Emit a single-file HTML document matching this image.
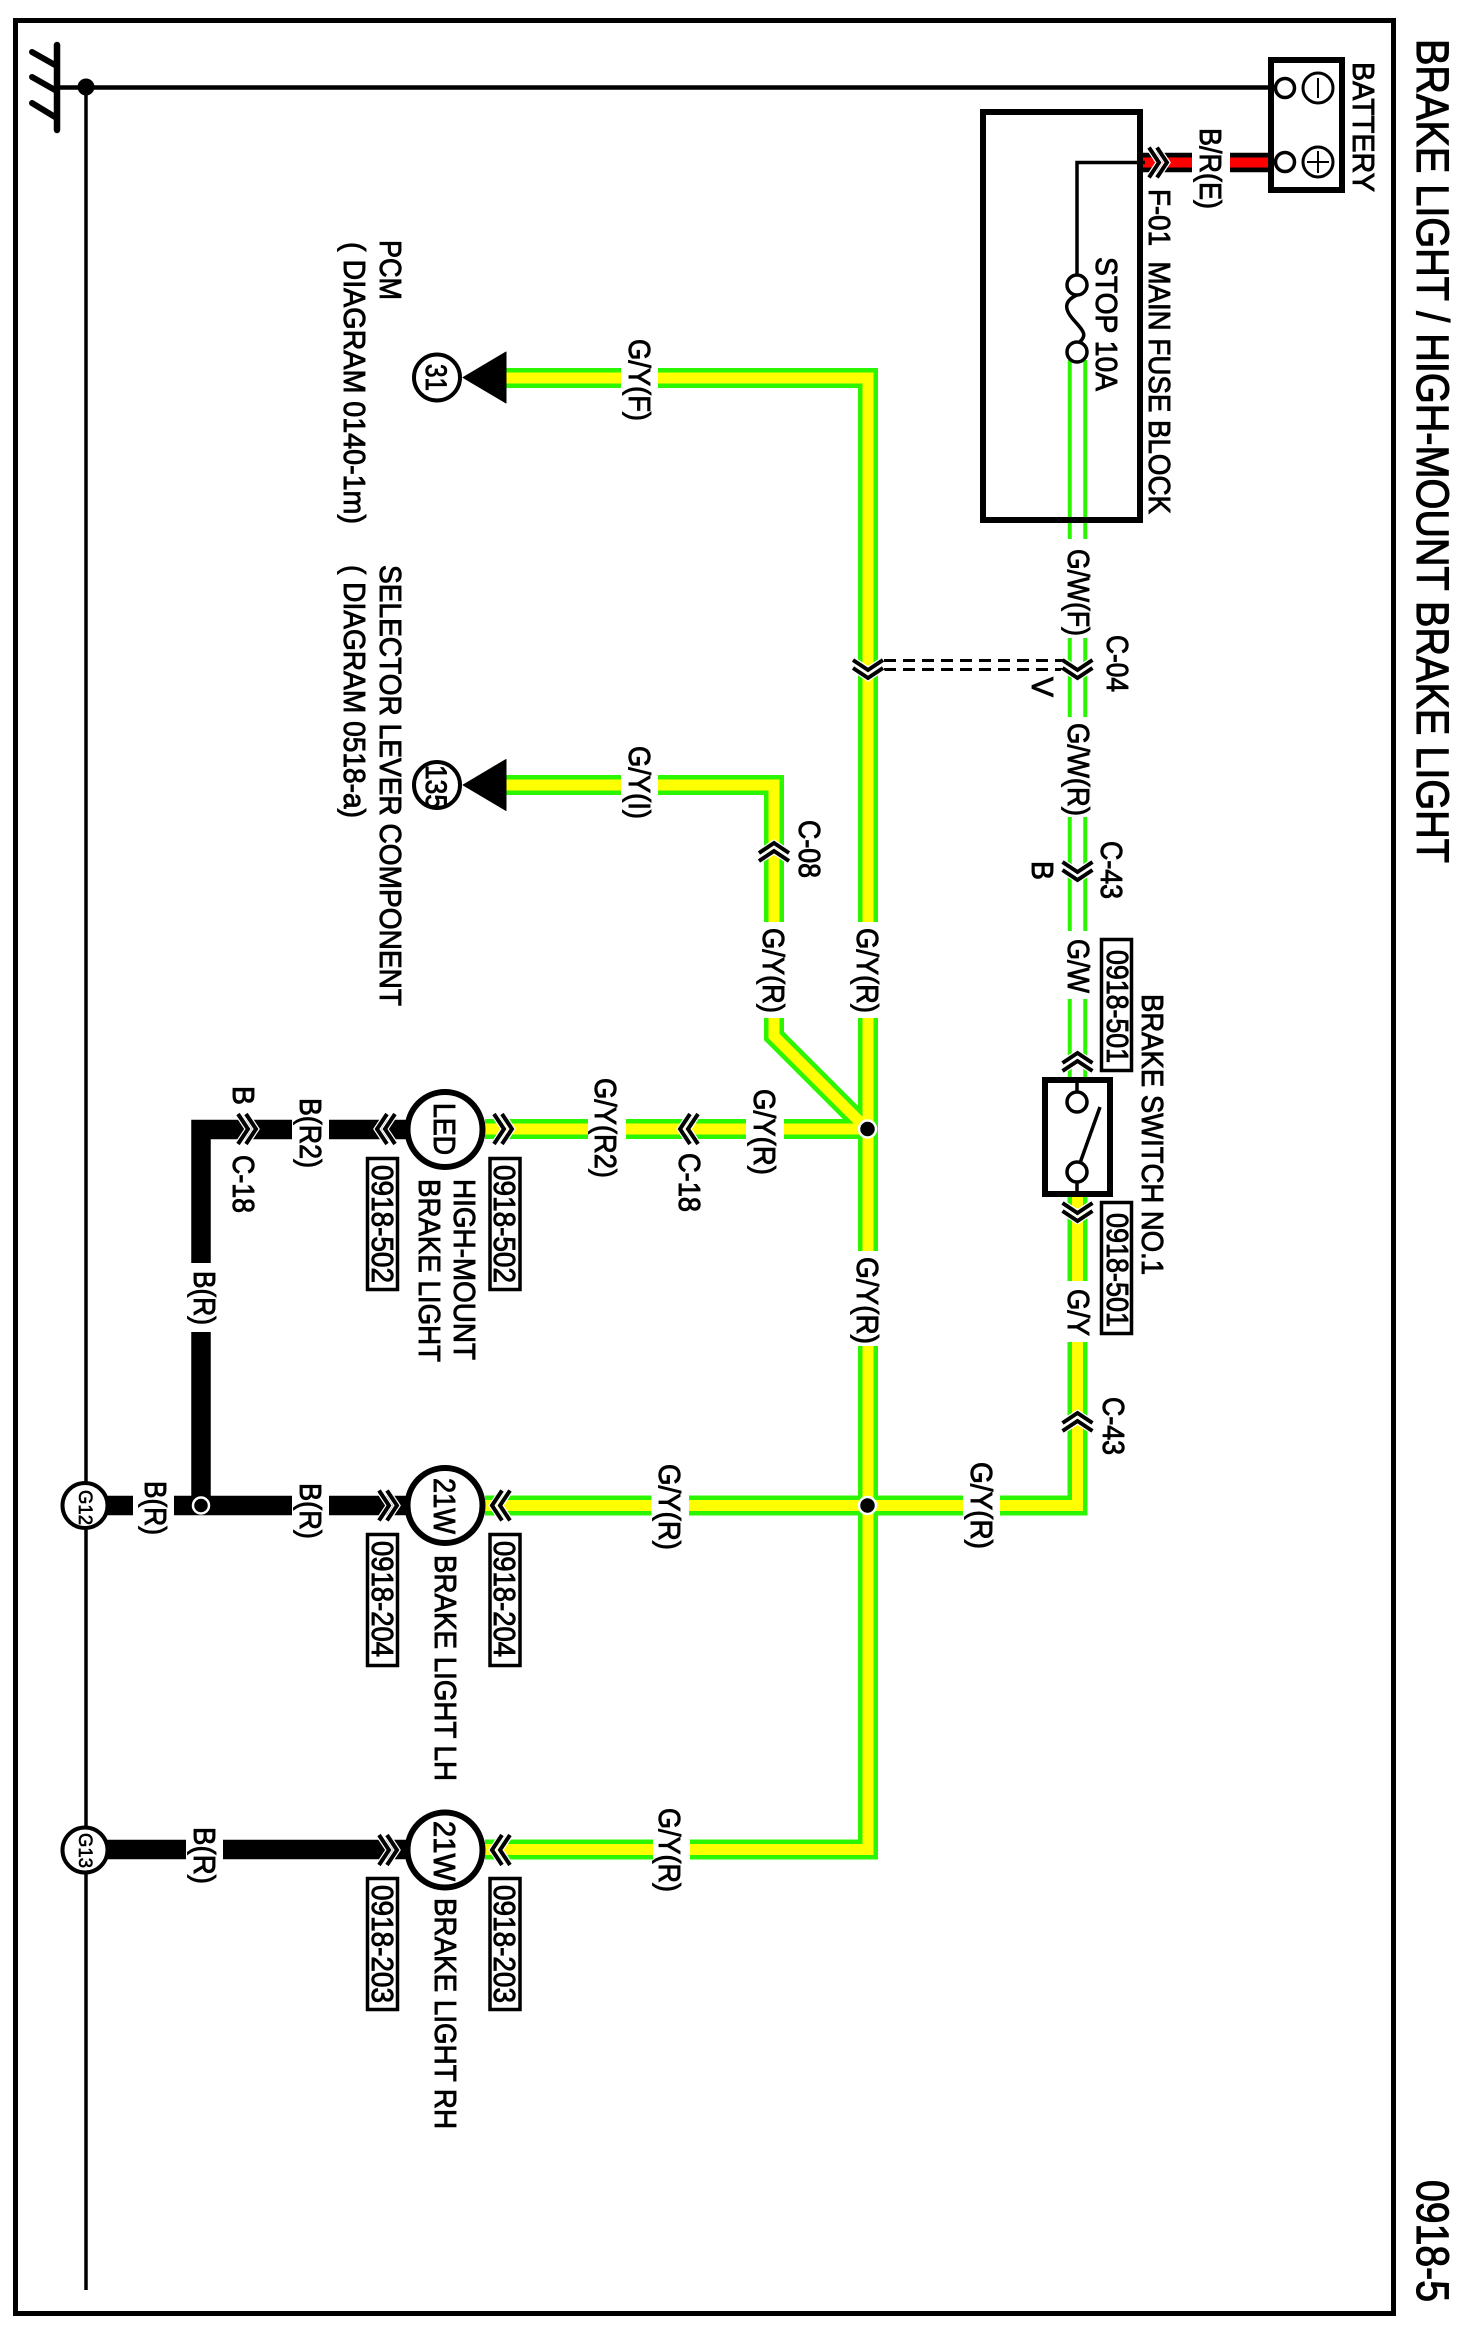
<!DOCTYPE html>
<html><head><meta charset="utf-8"><title>Brake Light / High-Mount Brake Light</title>
<style>
html,body{margin:0;padding:0;background:#fff}
svg{display:block}
text{font-family:"Liberation Sans",Arial,sans-serif;fill:#000;stroke:#000;stroke-width:.9;white-space:pre}
.w{fill:none;stroke-linejoin:miter;stroke-linecap:butt}
.g{stroke:#2bf500;stroke-width:20}
.y{stroke:#ffff00;stroke-width:11}
.c{fill:#fff;stroke:#000}
</style></head><body>
<svg width="1458" height="2331" viewBox="0 0 1458 2331" xmlns="http://www.w3.org/2000/svg">
<defs>
<g id="ch">
<path d="M-9,-15 L1,0 L-9,15 M-1,-15 L9,0 L-1,15" fill="none" stroke="#fff" stroke-width="6.5"/>
<path d="M-9,-15 L1,0 L-9,15 M-1,-15 L9,0 L-1,15" fill="none" stroke="#000" stroke-width="4"/>
</g>
</defs>
<rect width="1458" height="2331" fill="#fff"/>
<rect x="15.5" y="20.5" width="1378" height="2293" fill="none" stroke="#000" stroke-width="5"/>

<!-- ground -->
<g stroke="#000" stroke-linecap="round" fill="none">
<path d="M57,45 V130" stroke-width="6.5"/>
<path d="M32,52 L55,65 M32,77 L55,90 M32,103 L55,117" stroke-width="6"/>
</g>
<path d="M57,87.5 H1270" stroke="#000" stroke-width="4.5"/>
<path d="M86,87 V2290" stroke="#000" stroke-width="3.5"/>
<circle cx="86" cy="87" r="8.5" fill="#000"/>

<!-- white/green wires -->
<path class="w" d="M1077.5,360 V1080" stroke="#2bf500" stroke-width="19.5"/>
<path class="w" d="M1077.5,355 V1080" stroke="#fff" stroke-width="11.5"/>

<!-- green yellow wires -->
<g class="w g">
<path d="M506,378 H868 V1849.5 H485"/>
<path d="M506,785 H774 V1036 L868,1130"/>
<path d="M485,1129 H868"/>
<path d="M485,1505.5 H1077.5 V1197"/>
</g>
<g class="w y">
<path d="M506,378 H868 V1849.5 H485"/>
<path d="M506,785 H774 V1036 L868,1130"/>
<path d="M485,1129 H868"/>
<path d="M485,1505.5 H1077.5 V1197"/>
</g>

<!-- black wires -->
<g class="w" stroke="#000" stroke-width="19.5">
<path d="M406,1129.5 H201 V1505"/>
<path d="M85,1505.5 H406"/>
<path d="M85,1849.5 H406"/>
</g>

<!-- red wire -->
<path d="M1143,162.5 H1268" stroke="#000" stroke-width="19.5"/>
<path d="M1143,162.5 H1268" stroke="#ff0000" stroke-width="10"/>

<!-- label gaps -->
<g fill="#fff">
<rect x="1192" y="150" width="38" height="25"/>
<rect x="621" y="365" width="37" height="26"/>
<rect x="621" y="772" width="37" height="26"/>
<rect x="760" y="922" width="28" height="96"/>
<rect x="855" y="922" width="26" height="96"/>
<rect x="855" y="1251" width="26" height="95"/>
<rect x="746" y="1117" width="38" height="25"/>
<rect x="588" y="1117" width="38" height="25"/>
<rect x="651.5" y="1493" width="37.5" height="25"/>
<rect x="963" y="1493" width="37" height="25"/>
<rect x="653" y="1837" width="37" height="25"/>
<rect x="1065" y="1281" width="25" height="61"/>
<rect x="1065" y="539" width="25" height="99"/>
<rect x="1065" y="717" width="25" height="100"/>
<rect x="1065" y="931" width="25" height="68"/>
<rect x="292" y="1118" width="37" height="23"/>
<rect x="292" y="1494" width="37" height="23"/>
<rect x="189" y="1263" width="24" height="69"/>
<rect x="133" y="1494" width="41" height="23"/>
<rect x="186" y="1838" width="37" height="23"/>
</g>

<!-- battery -->
<rect x="1271" y="60" width="71" height="130" fill="#fff" stroke="#000" stroke-width="6"/>
<circle cx="1285" cy="88" r="9.5" class="c" stroke-width="3.5"/>
<circle cx="1285" cy="162" r="9.5" class="c" stroke-width="3.5"/>
<circle cx="1318" cy="88" r="15" class="c" stroke-width="3"/>
<circle cx="1318" cy="162" r="15" class="c" stroke-width="3"/>
<path d="M1318,78 V98 M1318,151 V173 M1307,162 H1329" stroke="#000" stroke-width="2"/>

<!-- fuse block -->
<rect x="983" y="112" width="157" height="408" fill="none" stroke="#000" stroke-width="6"/>
<path d="M1145,162.5 H1077 V276" fill="none" stroke="#000" stroke-width="3.5"/>
<path d="M1077,295 C1066,300 1063,307 1072,318 C1082,330 1090,335 1077,344" fill="none" stroke="#000" stroke-width="3.5"/>
<circle cx="1077" cy="285" r="10" class="c" stroke-width="3.5"/>
<circle cx="1077" cy="352" r="10" class="c" stroke-width="3.5"/>

<!-- dashed connector links -->
<path d="M884,660.5 H1065 M884,669.5 H1065" fill="none" stroke="#000" stroke-width="3" stroke-dasharray="12 7"/>

<!-- brake switch -->
<rect x="1045" y="1080" width="65" height="114" fill="#fff" stroke="#000" stroke-width="6"/>
<path d="M1077,1080 V1092 M1077,1182 V1194 M1080,1163 L1100,1107" stroke="#000" stroke-width="3.5" fill="none"/>
<circle cx="1077" cy="1102" r="10" class="c" stroke-width="3.5"/>
<circle cx="1077" cy="1172" r="10" class="c" stroke-width="3.5"/>

<!-- lamps -->
<circle cx="445" cy="1129.5" r="37.5" class="c" stroke-width="6"/>
<circle cx="445" cy="1505.5" r="37.5" class="c" stroke-width="6"/>
<circle cx="445" cy="1850" r="37.5" class="c" stroke-width="6"/>

<!-- module terminals -->
<path d="M463,377.5 L506,352 V403 Z" fill="#000" stroke="#000" stroke-linejoin="round"/>
<path d="M463,785 L506,759.5 V810.5 Z" fill="#000" stroke="#000" stroke-linejoin="round"/>
<circle cx="437" cy="377.5" r="23" class="c" stroke-width="4"/>
<circle cx="437" cy="785" r="23" class="c" stroke-width="4"/>

<!-- ground points -->
<circle cx="85" cy="1505.5" r="22.5" class="c" stroke-width="4"/>
<circle cx="85" cy="1850" r="22.5" class="c" stroke-width="4"/>

<!-- junctions -->
<g fill="#000" stroke="#fff" stroke-width="2.5">
<circle cx="867.5" cy="1129" r="8.5"/>
<circle cx="867.5" cy="1505.5" r="8.5"/>
<circle cx="201" cy="1505.5" r="8"/>
</g>

<!-- chevrons -->
<use href="#ch" transform="translate(1158,162.5)"/>
<use href="#ch" transform="translate(868,669) rotate(90)"/>
<use href="#ch" transform="translate(1077.5,669) rotate(90)"/>
<use href="#ch" transform="translate(1077.5,871) rotate(90)"/>
<use href="#ch" transform="translate(1077.5,1062) rotate(-90)"/>
<use href="#ch" transform="translate(1077.5,1212) rotate(90)"/>
<use href="#ch" transform="translate(1077.5,1422) rotate(-90)"/>
<use href="#ch" transform="translate(774,852) rotate(-90)"/>
<use href="#ch" transform="translate(503,1129)"/>
<use href="#ch" transform="translate(689,1129) rotate(180)"/>
<use href="#ch" transform="translate(386,1129) rotate(180)"/>
<use href="#ch" transform="translate(247,1129)"/>
<use href="#ch" transform="translate(501,1505.5) rotate(180)"/>
<use href="#ch" transform="translate(388,1505.5)"/>
<use href="#ch" transform="translate(501,1850) rotate(180)"/>
<use href="#ch" transform="translate(388,1850)"/>

<!-- reference boxes -->
<g fill="#fff" stroke="#000" stroke-width="3.5">
<rect x="1101.5" y="939.5" width="30" height="131"/>
<rect x="1101.5" y="1202.5" width="30" height="131"/>
<rect x="490" y="1158.5" width="30" height="131"/>
<rect x="367.5" y="1158.5" width="30" height="131"/>
<rect x="490" y="1534.5" width="30" height="131"/>
<rect x="367.5" y="1534.5" width="30" height="131"/>
<rect x="490" y="1878.5" width="30" height="131"/>
<rect x="367.5" y="1878.5" width="30" height="131"/>
</g>

<!-- text -->
<g>
<text transform="translate(1417,39) rotate(90)" font-size="45" textLength="824" lengthAdjust="spacingAndGlyphs" style="stroke-width:1.1">BRAKE LIGHT / HIGH-MOUNT BRAKE LIGHT</text>
<text transform="translate(1417,2180) rotate(90)" font-size="45" textLength="122" lengthAdjust="spacingAndGlyphs" style="stroke-width:1.1">0918-5</text>
<text transform="translate(1353,62) rotate(90)" font-size="31" textLength="130" lengthAdjust="spacingAndGlyphs">BATTERY</text>
<text transform="translate(1200,128) rotate(90)" font-size="31" textLength="81" lengthAdjust="spacingAndGlyphs">B/R(E)</text>
<text transform="translate(1149,189) rotate(90)" font-size="31" textLength="325" lengthAdjust="spacingAndGlyphs">F-01&#160;&#160;MAIN FUSE BLOCK</text>
<text transform="translate(1096,257) rotate(90)" font-size="31" textLength="134" lengthAdjust="spacingAndGlyphs">STOP 10A</text>

<text transform="translate(1068,549) rotate(90)" font-size="31" textLength="87" lengthAdjust="spacingAndGlyphs">G/W(F)</text>
<text transform="translate(1068,723) rotate(90)" font-size="31" textLength="93" lengthAdjust="spacingAndGlyphs">G/W(R)</text>
<text transform="translate(1068,939) rotate(90)" font-size="31" textLength="54" lengthAdjust="spacingAndGlyphs">G/W</text>
<text transform="translate(1107,635) rotate(90)" font-size="31" textLength="57" lengthAdjust="spacingAndGlyphs">C-04</text>
<text transform="translate(1032,677) rotate(90)" font-size="31" textLength="20" lengthAdjust="spacingAndGlyphs">V</text>
<text transform="translate(1101,841) rotate(90)" font-size="31" textLength="58" lengthAdjust="spacingAndGlyphs">C-43</text>
<text transform="translate(1032,861) rotate(90)" font-size="31" textLength="19" lengthAdjust="spacingAndGlyphs">B</text>
<text transform="translate(1107,950) rotate(90)" font-size="31" textLength="113" lengthAdjust="spacingAndGlyphs">0918-501</text>
<text transform="translate(1142,994) rotate(90)" font-size="31" textLength="281" lengthAdjust="spacingAndGlyphs">BRAKE SWITCH NO.1</text>
<text transform="translate(1107,1213) rotate(90)" font-size="31" textLength="114" lengthAdjust="spacingAndGlyphs">0918-501</text>
<text transform="translate(1068,1289) rotate(90)" font-size="31" textLength="47" lengthAdjust="spacingAndGlyphs">G/Y</text>
<text transform="translate(1103,1397) rotate(90)" font-size="31" textLength="58" lengthAdjust="spacingAndGlyphs">C-43</text>
<text transform="translate(971,1462) rotate(90)" font-size="31" textLength="87" lengthAdjust="spacingAndGlyphs">G/Y(R)</text>

<text transform="translate(629,339) rotate(90)" font-size="31" textLength="82" lengthAdjust="spacingAndGlyphs">G/Y(F)</text>
<text transform="translate(629,746) rotate(90)" font-size="31" textLength="73" lengthAdjust="spacingAndGlyphs">G/Y(I)</text>
<text transform="translate(799,820) rotate(90)" font-size="31" textLength="58" lengthAdjust="spacingAndGlyphs">C-08</text>
<text transform="translate(763,928) rotate(90)" font-size="31" textLength="85" lengthAdjust="spacingAndGlyphs">G/Y(R)</text>
<text transform="translate(857,928) rotate(90)" font-size="31" textLength="85" lengthAdjust="spacingAndGlyphs">G/Y(R)</text>
<text transform="translate(857,1257) rotate(90)" font-size="31" textLength="87" lengthAdjust="spacingAndGlyphs">G/Y(R)</text>
<text transform="translate(754,1089) rotate(90)" font-size="31" textLength="86" lengthAdjust="spacingAndGlyphs">G/Y(R)</text>
<text transform="translate(595,1078) rotate(90)" font-size="31" textLength="100" lengthAdjust="spacingAndGlyphs">G/Y(R2)</text>
<text transform="translate(679,1153) rotate(90)" font-size="31" textLength="59" lengthAdjust="spacingAndGlyphs">C-18</text>
<text transform="translate(659,1464) rotate(90)" font-size="31" textLength="86" lengthAdjust="spacingAndGlyphs">G/Y(R)</text>
<text transform="translate(659,1808) rotate(90)" font-size="31" textLength="84" lengthAdjust="spacingAndGlyphs">G/Y(R)</text>

<text transform="translate(426,364) rotate(90)" font-size="30" textLength="27" lengthAdjust="spacingAndGlyphs">31</text>
<text transform="translate(426,765) rotate(90)" font-size="30" textLength="44" lengthAdjust="spacingAndGlyphs">135</text>
<text transform="translate(380,240) rotate(90)" font-size="31" textLength="60" lengthAdjust="spacingAndGlyphs">PCM</text>
<text transform="translate(344,242) rotate(90)" font-size="31" textLength="282" lengthAdjust="spacingAndGlyphs">( DIAGRAM 0140-1m)</text>
<text transform="translate(380,565) rotate(90)" font-size="31" textLength="441" lengthAdjust="spacingAndGlyphs">SELECTOR LEVER COMPONENT</text>
<text transform="translate(344,565) rotate(90)" font-size="31" textLength="253" lengthAdjust="spacingAndGlyphs">( DIAGRAM 0518-a)</text>

<text transform="translate(434,1103) rotate(90)" font-size="31" textLength="52" lengthAdjust="spacingAndGlyphs">LED</text>
<text transform="translate(494,1165) rotate(90)" font-size="31" textLength="118" lengthAdjust="spacingAndGlyphs">0918-502</text>
<text transform="translate(372,1165) rotate(90)" font-size="31" textLength="118" lengthAdjust="spacingAndGlyphs">0918-502</text>
<text transform="translate(454,1179) rotate(90)" font-size="31" textLength="181" lengthAdjust="spacingAndGlyphs">HIGH-MOUNT</text>
<text transform="translate(419,1179) rotate(90)" font-size="31" textLength="183" lengthAdjust="spacingAndGlyphs">BRAKE LIGHT</text>
<text transform="translate(300,1098) rotate(90)" font-size="31" textLength="70" lengthAdjust="spacingAndGlyphs">B(R2)</text>
<text transform="translate(233,1086) rotate(90)" font-size="31" textLength="19" lengthAdjust="spacingAndGlyphs">B</text>
<text transform="translate(233,1155) rotate(90)" font-size="31" textLength="58" lengthAdjust="spacingAndGlyphs">C-18</text>
<text transform="translate(194,1271) rotate(90)" font-size="31" textLength="54" lengthAdjust="spacingAndGlyphs">B(R)</text>

<text transform="translate(434,1478) rotate(90)" font-size="31" textLength="56" lengthAdjust="spacingAndGlyphs">21W</text>
<text transform="translate(494,1541) rotate(90)" font-size="31" textLength="116" lengthAdjust="spacingAndGlyphs">0918-204</text>
<text transform="translate(372,1541) rotate(90)" font-size="31" textLength="116" lengthAdjust="spacingAndGlyphs">0918-204</text>
<text transform="translate(435,1555) rotate(90)" font-size="31" textLength="226" lengthAdjust="spacingAndGlyphs">BRAKE LIGHT LH</text>
<text transform="translate(300,1483) rotate(90)" font-size="31" textLength="56" lengthAdjust="spacingAndGlyphs">B(R)</text>
<text transform="translate(145,1481) rotate(90)" font-size="31" textLength="54" lengthAdjust="spacingAndGlyphs">B(R)</text>
<text transform="translate(79,1490) rotate(90)" font-size="19" textLength="35" lengthAdjust="spacingAndGlyphs" style="stroke-width:.6">G12</text>

<text transform="translate(434,1821) rotate(90)" font-size="31" textLength="60" lengthAdjust="spacingAndGlyphs">21W</text>
<text transform="translate(494,1885) rotate(90)" font-size="31" textLength="118" lengthAdjust="spacingAndGlyphs">0918-203</text>
<text transform="translate(372,1885) rotate(90)" font-size="31" textLength="118" lengthAdjust="spacingAndGlyphs">0918-203</text>
<text transform="translate(435,1898) rotate(90)" font-size="31" textLength="231" lengthAdjust="spacingAndGlyphs">BRAKE LIGHT RH</text>
<text transform="translate(194,1827) rotate(90)" font-size="31" textLength="57" lengthAdjust="spacingAndGlyphs">B(R)</text>
<text transform="translate(79,1833) rotate(90)" font-size="19" textLength="35" lengthAdjust="spacingAndGlyphs" style="stroke-width:.6">G13</text>
</g>
</svg>
</body></html>
